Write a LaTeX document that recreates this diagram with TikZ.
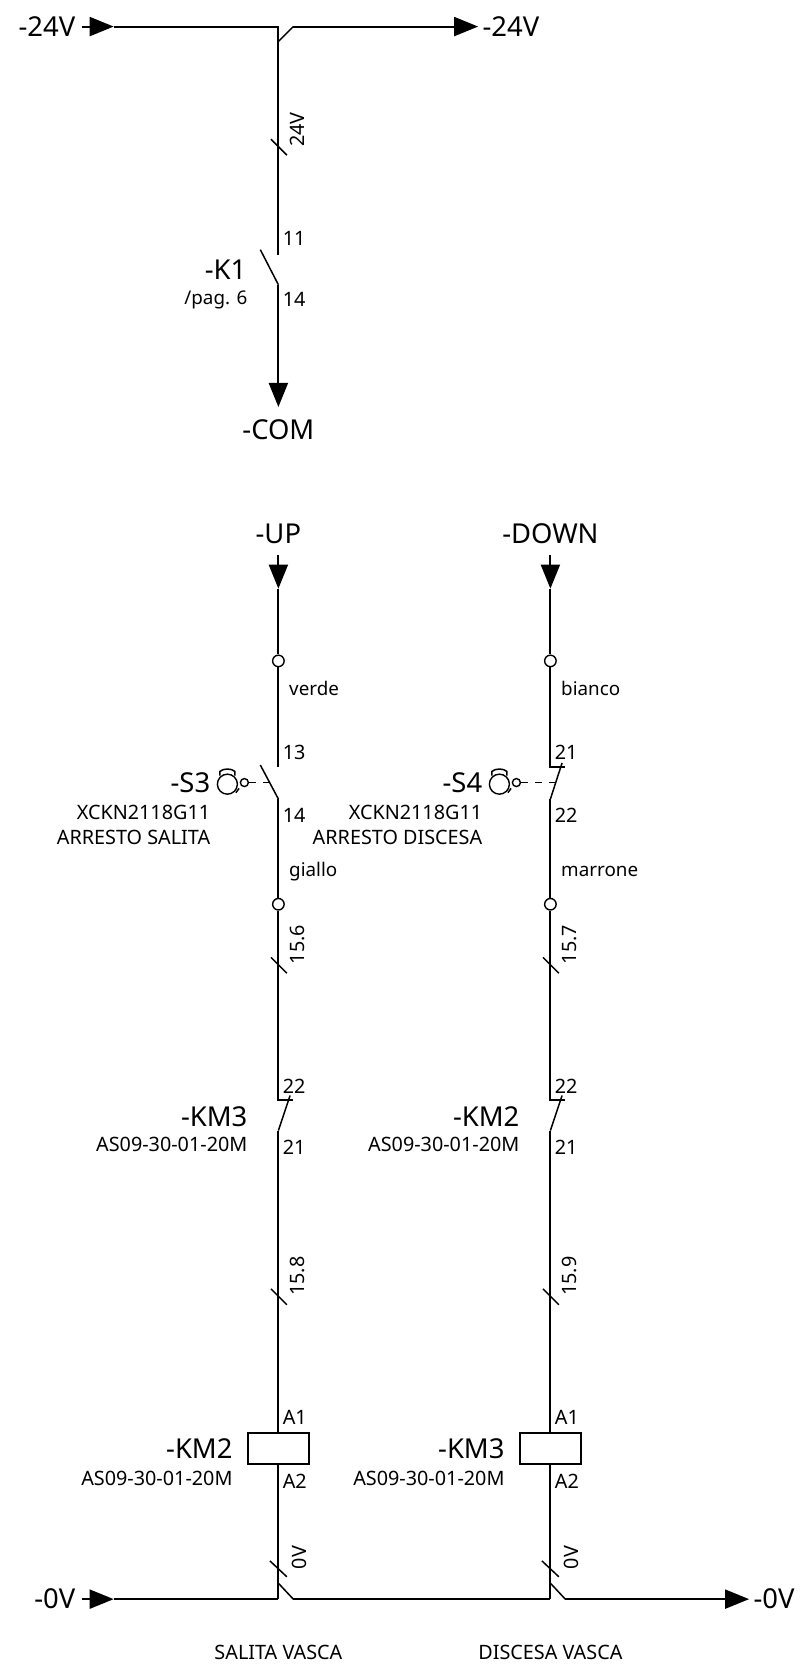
\documentclass[tikz,border=0pt]{standalone}
\usepackage{fontspec}
\setmainfont{Noto Sans}
\usetikzlibrary{arrows.meta}
\tikzset{
 wire/.style={line width=2pt,line join=miter},
 fine/.style={line width=1.5pt},
 tipped/.style={-{Triangle[length=24pt,width=19pt]}},
 arrowed/.style={wire,tipped},
 big/.style={font=\fontsize{27.4}{27.4}\selectfont,inner sep=0pt},
 small/.style={font=\fontsize{19.8}{19.8}\selectfont,inner sep=0pt},
 lower/.style={font=\fontsize{18.8}{18.8}\selectfont,inner sep=0pt},
 term/.style={circle,draw,line width=1.4pt,minimum size=11.5pt,inner sep=0pt,fill=white},
 coil/.style={draw,line width=2pt,minimum width=61pt,minimum height=31pt,inner sep=0pt},
 camw/.style={circle,draw,line width=1.4pt,minimum size=20pt,inner sep=0pt},
 cams/.style={circle,draw,line width=1.4pt,minimum size=8pt,inner sep=0pt},
}
\begin{document}
\begin{tikzpicture}[x=1.0625pt,y=-1.0625pt]
\useasboundingbox (0,0) rectangle (752,1567);
% top
\node[big,anchor=east] (l24a) at (71,25) {-24V};
\node[big,anchor=west] (l24b) at (454,25) {-24V};
\coordinate (ta) at (77,25); \coordinate (tat) at (107,25);
\coordinate (tj) at (262,25); \coordinate (tk) at (262,39);
\coordinate (tm) at (276,25); \coordinate (tb) at (450,25);
\coordinate (k1a) at (262,240); \coordinate (k1b) at (262,268); \coordinate (k1c) at (245,235);
\coordinate (com) at (262,383);
\draw[arrowed] (ta) -- (tat);
\draw[wire] (tat) -- (tj) -- (k1a);
\draw[fine] (tk) -- (tm);
\draw[arrowed] (tm) -- (tb);
\draw[fine] (255,131) -- (270,146);
\node[small,rotate=90] (n24) at (280,122) {24V};
\draw[fine] (k1c) -- (k1b);
\draw[arrowed] (k1b) -- (com);
\node[small,anchor=west] (n11) at (266,224) {11};
\node[small,anchor=west] (n14) at (266,282) {14};
\node[big,anchor=east] (k1) at (232,254) {-K1};
\node[lower,anchor=east] (pag) at (233,282) {/pag. 6};
\node[big] (lcom) at (262,404) {-COM};
% columns
\foreach \X/\up/\colA/\colB/\tickA/\tickB/\kn/\cn/\nb in {262/-UP/verde/giallo/15.6/15.8/-KM3/-KM2/a,518/-DOWN/bianco/marrone/15.7/15.9/-KM2/-KM3/b}{
  \node[big] (up\nb) at (\X,502) {\up};
  \coordinate (s\nb) at (\X,522);
  \coordinate (c\nb) at (\X,554);
  \node[term] (t1\nb) at (\X,622) {};
  \node[term] (t2\nb) at (\X,851) {};
  \draw[arrowed] (s\nb) -- (c\nb);
  \draw[wire] (c\nb) -- (t1\nb);
  \node[lower,anchor=base west] (ca\nb) at (\X+10,655) {\colA};
  \node[lower,anchor=base west] (cb\nb) at (\X+10,825) {\colB};
  \draw[wire] (\X,752) -- (t2\nb);
  \draw[wire] (t2\nb) -- (\X,1035) -- (\X+14,1035);
  \draw[fine] (\X-7,901) -- (\X+8,916);
  \node[small,rotate=90] (ta\nb) at (\X+18,889) {\tickA};
  \node[small,anchor=west] (n22\nb) at (\X+4,1022) {22};
  \draw[fine] (\X,1064) -- (\X+11,1031);
  \node[small,anchor=west] (n21\nb) at (\X+4,1080) {21};
  \node[big,anchor=east] (kn\nb) at (\X-29,1051) {\kn};
  \node[small,anchor=east] (km\nb) at (\X-29,1077) {AS09-30-01-20M};
  \node[small,rotate=90] (tb\nb) at (\X+18,1201) {\tickB};
  \draw[fine] (\X-7,1213) -- (\X+8,1228);
  \node[coil] (coil\nb) at (\X,1363.5) {};
  \draw[wire] (\X,1064) -- (coil\nb);
  \node[small,anchor=west] (a1\nb) at (\X+4,1334) {A1};
  \node[small,anchor=west] (a2\nb) at (\X+4,1394) {A2};
  \node[big,anchor=east] (cn\nb) at (\X-43,1363) {\cn};
  \node[small,anchor=east] (cm\nb) at (\X-43,1391) {AS09-30-01-20M};
  \draw[wire] (coil\nb) -- (\X,1505);
  \draw[fine] (\X-8,1469) -- (\X+8,1484);
  \draw[fine] (\X,1490) -- (\X+14,1505);
  \node[small,rotate=90] (z\nb) at (\X+20,1466) {0V};
}
% S3
\draw[wire] (t1a) -- (262,722);
\draw[fine] (245,720) -- (262,752);
\node[small,anchor=west] (n13) at (266,708) {13};
\node[small,anchor=west] (n14b) at (266,767) {14};
\node[big,anchor=east] (s3) at (198,737) {-S3};
\node[small,anchor=east] (xa) at (198,765) {XCKN2118G11};
\node[small,anchor=east] (xb) at (198,788) {ARRESTO SALITA};
\node[camw] (cama) at (214,738) {};
\node[cams] (sma) at (230,736.5) {};
\draw[fine,dash pattern=on 7pt off 7pt] (sma) -- (253,736.5);
\draw[fine] (207,730) -- (207,726) .. controls (210,723) and (218,723) .. (221,726) -- (221,730);
\draw[fine] (225,742) -- (222,746);
% S4
\draw[wire] (t1b) -- (518,722) -- (532,722);
\draw[fine] (518,752) -- (529,718);
\node[small,anchor=west] (n21t) at (522,708) {21};
\node[small,anchor=west] (n22t) at (522,767) {22};
\node[big,anchor=east] (s4) at (454,737) {-S4};
\node[small,anchor=east] (xc) at (454,765) {XCKN2118G11};
\node[small,anchor=east] (xd) at (454,788) {ARRESTO DISCESA};
\node[camw] (camb) at (470,738) {};
\node[cams] (smb) at (486,736.5) {};
\draw[fine,dash pattern=on 7pt off 7pt] (smb) -- (524,736.5);
\draw[fine] (463,730) -- (463,726) .. controls (466,723) and (474,723) .. (477,726) -- (477,730);
\draw[fine] (481,742) -- (478,746);
% bottom
\node[big,anchor=east] (z1) at (71,1505) {-0V};
\node[big,anchor=west] (z2) at (709,1505) {-0V};
\draw[arrowed] (77,1505) -- (107,1505);
\draw[wire] (107,1505) -- (262,1505);
\draw[wire] (276,1505) -- (518,1505);
\draw[arrowed] (532,1505) -- (705,1505);
\node[small] (sv) at (262,1555) {SALITA VASCA};
\node[small] (dv) at (518,1555) {DISCESA VASCA};
\end{tikzpicture}
\end{document}
